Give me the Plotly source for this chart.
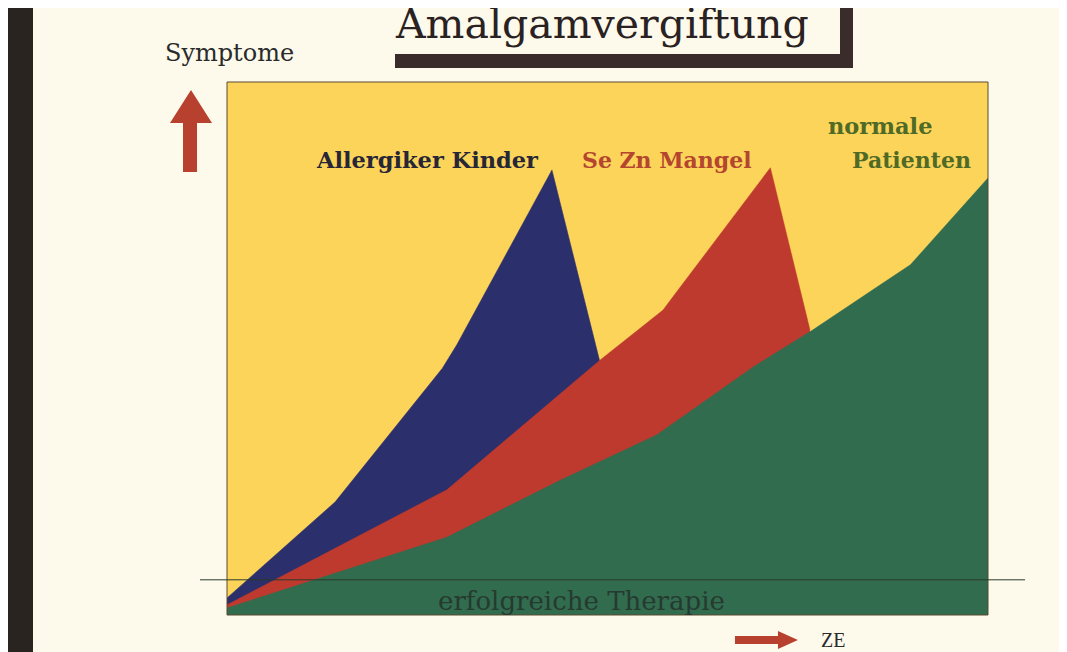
import plotly.graph_objects as go

# ---- data (x: time 0-100, y: symptoms 0-100) ----
normal_x = [0, 28.9, 43.8, 56.5, 69.1, 77.0, 85.8, 89.8, 100]
normal_y = [1.3, 14.6, 25.3, 33.8, 46.5, 53.5, 61.9, 65.7, 82.0]

sezn_x = [0, 28.9, 49.0, 57.3, 58.6, 71.4, 76.6]
sezn_y = [1.9, 23.5, 47.8, 57.2, 59.7, 83.9, 53.5]

allerg_x = [0, 14.2, 28.3, 30.2, 42.7, 49.0]
allerg_y = [3.2, 21.2, 46.3, 50.7, 83.5, 47.5]

therapy_level = 6.6

series_names = ["Allergiker Kinder", "Se Zn Mangel", "normale Patienten"]

W, H = 1067, 652
OFF = 8  # page body margin
L, R, T, B = 227, 988, 82, 615  # plot box in screen pixels


def px(x):
    return (x - L) / (R - L)


def py(y):
    return (B - y) / (B - T)


YELLOW = "#FCD45A"
NAVY = "#2B2F6B"
RED = "#BF3A2E"
GREEN = "#316C4F"
CREAM = "#FDFAEC"
DARK = "#3A2C2B"

fig = go.Figure()
for xs, ys, col, name in [
    (allerg_x, allerg_y, NAVY, series_names[0]),
    (sezn_x, sezn_y, RED, series_names[1]),
    (normal_x, normal_y, GREEN, series_names[2]),
]:
    fig.add_trace(go.Scatter(x=xs, y=ys, mode="lines", fill="tozeroy",
                             fillcolor=col, line=dict(color=col, width=0.5),
                             name=name, showlegend=False, hoverinfo="skip"))

shapes = []
# plot frame
shapes.append(dict(type="rect", xref="paper", yref="paper", x0=0, x1=1, y0=0, y1=1,
                   line=dict(color="#5a4a30", width=1), layer="above"))
# therapy line (extends beyond frame)
ty = therapy_level / 100
shapes.append(dict(type="line", xref="paper", yref="paper", x0=px(200), x1=px(1025),
                   y0=ty, y1=ty, line=dict(color="#2a3a2a", width=1), layer="above"))
# left dark strip
shapes.append(dict(type="rect", xref="paper", yref="paper", x0=px(8), x1=px(33),
                   y0=py(670), y1=py(8), fillcolor="#2a2421", line=dict(width=0)))
# title box shadow bars
shapes.append(dict(type="rect", xref="paper", yref="paper", x0=px(840), x1=px(853),
                   y0=py(68), y1=py(8), fillcolor=DARK, line=dict(width=0)))
shapes.append(dict(type="rect", xref="paper", yref="paper", x0=px(395), x1=px(853),
                   y0=py(68), y1=py(54), fillcolor=DARK, line=dict(width=0)))
# up arrow
up = [(183, 172), (197, 172), (197, 123), (212, 123), (191, 90), (170, 123), (183, 123)]
path = "M " + " L ".join(f"{px(a):.4f},{py(b):.4f}" for a, b in up) + " Z"
shapes.append(dict(type="path", xref="paper", yref="paper", path=path,
                   fillcolor="#B8402F", line=dict(width=0)))
# right arrow
ra = [(735, 636), (778, 636), (778, 631), (798, 640), (778, 649), (778, 644), (735, 644)]
path = "M " + " L ".join(f"{px(a):.4f},{py(b):.4f}" for a, b in ra) + " Z"
shapes.append(dict(type="path", xref="paper", yref="paper", path=path,
                   fillcolor="#B8402F", line=dict(width=0)))

SERIF = "DejaVu Serif"
ann = []


def add_text(text, x, y, size, color, xanchor="left", weight="normal", family=SERIF):
    ann.append(dict(text=text, xref="paper", yref="paper", x=px(x), y=py(y),
                    xanchor=xanchor, yanchor="middle", showarrow=False,
                    font=dict(family=family, size=size, color=color, weight=weight)))


add_text("Amalgamvergiftung", 393, 24, 41, "#2a2222")
add_text("Symptome", 163, 53, 24, "#2a2a2a")
add_text("Allergiker Kinder", 314, 160, 22.5, "#262636", weight="bold")
add_text("Se Zn Mangel", 580, 160, 22, "#B4452E", weight="bold")
add_text("normale", 826, 126, 22.5, "#4E6A26", weight="bold")
add_text("Patienten", 850, 160, 22, "#4E6A26", weight="bold")
add_text("erfolgreiche Therapie", 436, 601, 26, "#263a30")
add_text("ZE", 819, 640, 20, "#2a2a2a", family="Liberation Serif")

fig.update_layout(
    width=W, height=H,
    margin=dict(l=L - OFF, r=W - R + OFF, t=T - OFF, b=H - B + OFF, pad=0),
    paper_bgcolor=CREAM, plot_bgcolor=YELLOW,
    xaxis=dict(range=[0, 100], visible=False, fixedrange=True),
    yaxis=dict(range=[0, 100], visible=False, fixedrange=True),
    shapes=shapes, annotations=ann, showlegend=False,
)
fig.write_html("out.html",
               post_script="document.documentElement.style.overflow='hidden';")
